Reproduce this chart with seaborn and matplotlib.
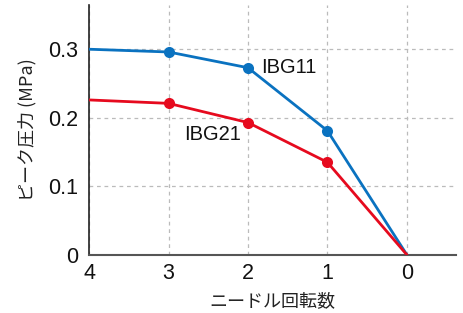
import matplotlib
matplotlib.use("Agg")
import matplotlib.pyplot as plt
import seaborn as sns
import pandas as pd

# needle turns (x axis runs 4 -> 0)
turns = [4, 3, 2, 1, 0]
ibg11 = [0.300, 0.296, 0.273, 0.181, 0.0]
ibg21 = [0.226, 0.221, 0.193, 0.135, 0.0]

series_names = ["IBG11", "IBG21"]
series_colors = ["#0a72c0", "#e60a1e"]

df = pd.concat([
    pd.DataFrame({"turns": turns, "pressure": ibg11, "series": "IBG11"}),
    pd.DataFrame({"turns": turns, "pressure": ibg21, "series": "IBG21"}),
])

sns.set_style("ticks")
plt.rcParams["font.family"] = ["Liberation Sans", "Noto Sans CJK JP", "DejaVu Sans"]

fig = plt.figure(figsize=(4.64, 3.13), dpi=100)
ax = fig.add_axes([0.192, 0.186, 0.791, 0.799])

for name, color in zip(series_names, series_colors):
    sub = df[df["series"] == name]
    sns.lineplot(data=sub, x="turns", y="pressure", ax=ax, color=color,
                 linewidth=2, marker="o", markersize=8, markeredgewidth=0,
                 markevery=[1, 2, 3], legend=False, zorder=3)

ax.set_xlim(4, -0.62)
ax.set_ylim(0, 0.365)
ax.set_xticks([4, 3, 2, 1, 0])
ax.set_xticklabels(["4", "3", "2", "1", "0"])
ax.set_yticks([0, 0.1, 0.2, 0.3])
ax.set_yticklabels(["0", "0.1", "0.2", "0.3"])
ax.tick_params(length=0, labelsize=15.5, colors="#111111")
ax.tick_params(axis="y", pad=8)
ax.tick_params(axis="x", pad=6)

ax.grid(True, linestyle=(0, (3, 3)), color="#bbbbbb", linewidth=0.9)

for s in ["top", "right"]:
    ax.spines[s].set_visible(False)
ax.spines["left"].set_color("#222222")
ax.spines["bottom"].set_color("#555555")
ax.spines["left"].set_linewidth(1.2)
ax.spines["bottom"].set_linewidth(1.5)

ax.set_xlabel("ニードル回転数", fontsize=13, family=["Noto Sans CJK JP"], color="#222222", labelpad=6)
ax.set_ylabel("ピーク圧力 (MPa)", fontsize=13, family=["Noto Sans CJK JP"], color="#222222", labelpad=8)

ax.text(1.835, 0.274, "IBG11", fontsize=14.5, va="center", ha="left", color="#111111")
ax.text(2.09, 0.176, "IBG21", fontsize=14.5, va="center", ha="right", color="#111111")

fig.savefig("out.png", dpi=100)
